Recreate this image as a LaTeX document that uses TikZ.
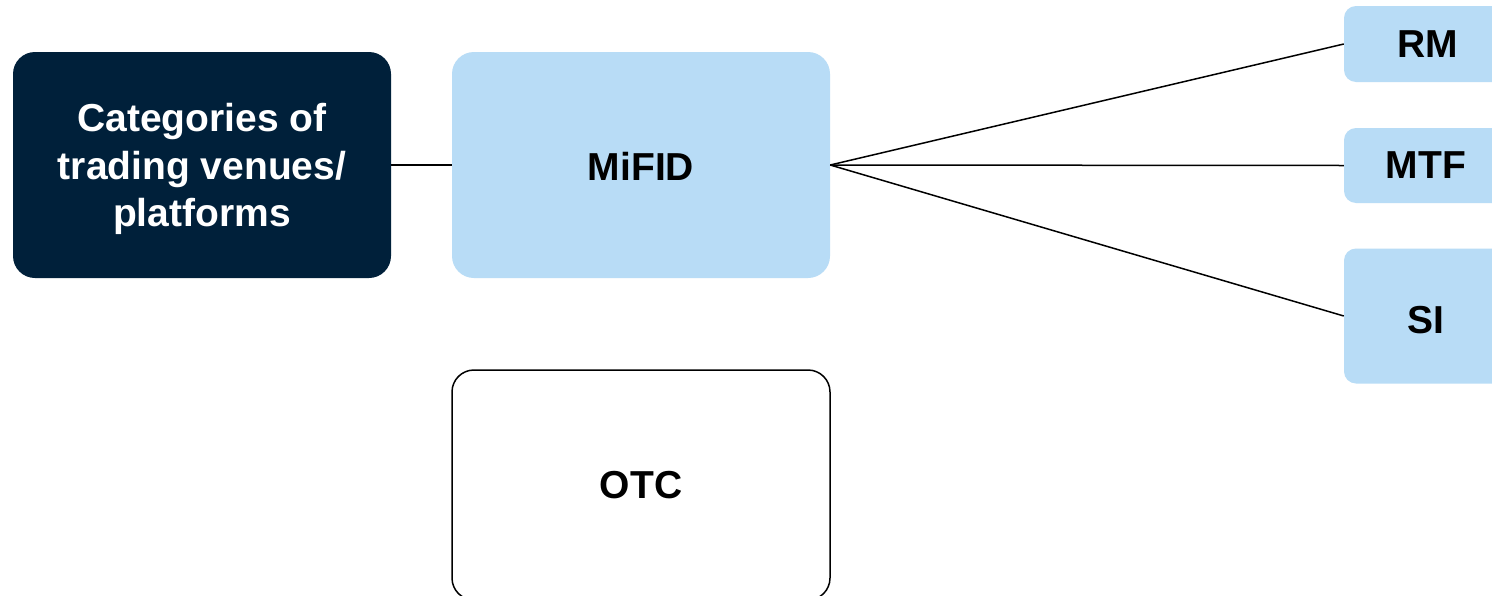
\documentclass[tikz,border=0pt]{standalone}
\usepackage{fontspec}
\setmainfont{Liberation Sans}
\definecolor{navy}{HTML}{00203A}
\definecolor{lightblue}{HTML}{B8DCF6}
\begin{document}
\begin{tikzpicture}[x=1pt,y=-1pt,
  lbl/.style={font=\fontsize{39}{47.5}\selectfont\bfseries, align=center, inner sep=0pt},
  box/.style={rounded corners=22pt, inner sep=0pt},
  darkbox/.style={box, fill=navy},
  bluebox/.style={box, fill=lightblue},
  whitebox/.style={box, draw=black, line width=1.5pt, fill=white},
  smallbox/.style={box, fill=lightblue, rounded corners=12pt},
  link/.style={draw=black, line width=1.5pt}]
\clip (0,0) rectangle (1492,595);
\fill[white] (0,0) rectangle (1492,595);
\node[darkbox, minimum width=378pt, minimum height=226pt] (cat) at (202,165) {};
\node[lbl, text=white] (cattext) at (202,169) {Categories of\\trading venues/\\platforms};
\node[bluebox, minimum width=378pt, minimum height=226pt] (mifid) at (641,165) {};
\node[lbl] (mifidtext) at (641,166) {MiFID};
\node[whitebox, minimum width=378pt, minimum height=230pt] (otc) at (641,485) {};
\node[lbl] (otctext) at (641,485) {OTC};
\node[smallbox, minimum width=170pt, minimum height=76pt] (rm) at (1429,44) {};
\node[lbl] (rmtext) at (1428,44) {RM};
\node[smallbox, minimum width=170pt, minimum height=75pt] (mtf) at (1429,165.5) {};
\node[lbl] (mtftext) at (1426,165.5) {MTF};
\node[smallbox, minimum width=170pt, minimum height=135pt] (si) at (1429,316) {};
\node[lbl] (sitext) at (1426,320) {SI};
\draw[link] (cat.east) -- (mifid.west);
\draw[link] (mifid.east) -- (rm.west);
\draw[link] (mifid.east) -- (mtf.west);
\draw[link] (mifid.east) -- (si.west);
\end{tikzpicture}
\end{document}
